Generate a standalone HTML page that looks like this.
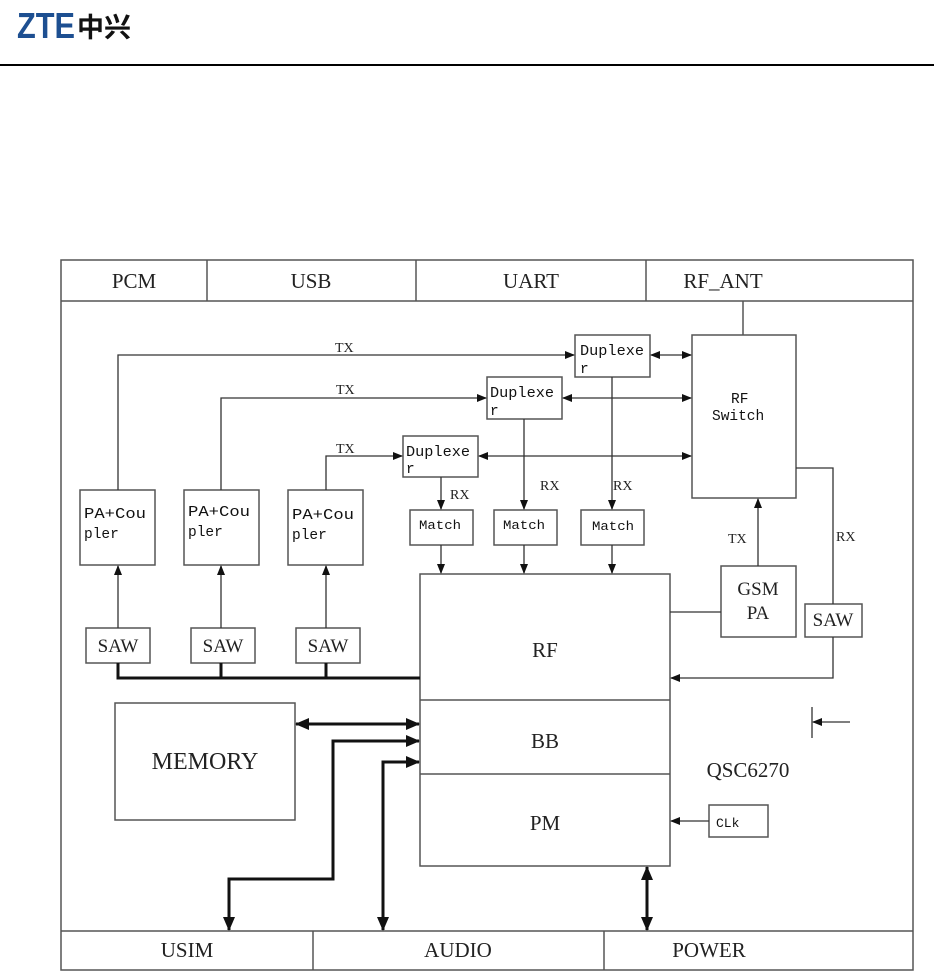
<!DOCTYPE html>
<html><head><meta charset="utf-8"><style>
html,body{margin:0;padding:0;background:#fff;}
svg{display:block;}
.s{font-family:"Liberation Serif",serif;fill:#222;}
.m{font-family:"Liberation Mono","DejaVu Sans Mono",monospace;fill:#111;}
</style></head><body>
<svg width="934" height="976" viewBox="0 0 934 976" xmlns="http://www.w3.org/2000/svg">
<defs>
<marker id="a" markerWidth="10" markerHeight="8" refX="9" refY="4" orient="auto" markerUnits="userSpaceOnUse"><path d="M0,0 L10,4 L0,8 z" fill="#111"/></marker>
<marker id="b" markerWidth="14" markerHeight="12" refX="13" refY="6" orient="auto" markerUnits="userSpaceOnUse"><path d="M0,0 L14,6 L0,12 z" fill="#111"/></marker>
<marker id="as" markerWidth="10" markerHeight="8" refX="1" refY="4" orient="auto" markerUnits="userSpaceOnUse"><path d="M10,0 L0,4 L10,8 z" fill="#111"/></marker>
<marker id="bs" markerWidth="14" markerHeight="12" refX="1" refY="6" orient="auto" markerUnits="userSpaceOnUse"><path d="M14,0 L0,6 L14,12 z" fill="#111"/></marker>
</defs>
<text x="17" y="38" font-family="Liberation Sans,sans-serif" font-weight="bold" font-size="36" fill="#1d4f91" textLength="58" lengthAdjust="spacingAndGlyphs">ZTE</text>
<text x="77" y="37" font-family="Noto Sans CJK SC,sans-serif" font-weight="bold" font-size="27" fill="#111">中兴</text>
<rect x="0" y="64" width="934" height="2" fill="#000"/>
<g fill="none" stroke="#555" stroke-width="1.5">
<rect x="61" y="260" width="852" height="710"/>
<line x1="61" y1="301" x2="913" y2="301"/>
<line x1="207" y1="260" x2="207" y2="301"/><line x1="416" y1="260" x2="416" y2="301"/><line x1="646" y1="260" x2="646" y2="301"/>
<line x1="61" y1="931" x2="913" y2="931"/>
<line x1="313" y1="931" x2="313" y2="970"/><line x1="604" y1="931" x2="604" y2="970"/>
<line x1="743" y1="301" x2="743" y2="335"/>
<rect x="692" y="335" width="104" height="163"/>
<rect x="575" y="335" width="75" height="42"/>
<rect x="487" y="377" width="75" height="42"/>
<rect x="403" y="436" width="75" height="41"/>
<rect x="410" y="510" width="63" height="35"/>
<rect x="494" y="510" width="63" height="35"/>
<rect x="581" y="510" width="63" height="35"/>
<rect x="420" y="574" width="250" height="292"/>
<line x1="420" y1="700" x2="670" y2="700"/><line x1="420" y1="774" x2="670" y2="774"/>
<rect x="80" y="490" width="75" height="75"/><rect x="184" y="490" width="75" height="75"/><rect x="288" y="490" width="75" height="75"/>
<rect x="86" y="628" width="64" height="35"/><rect x="191" y="628" width="64" height="35"/><rect x="296" y="628" width="64" height="35"/>
<rect x="721" y="566" width="75" height="71"/>
<rect x="805" y="604" width="57" height="33"/>
<rect x="115" y="703" width="180" height="117"/>
<rect x="709" y="805" width="59" height="32"/>
</g>
<g fill="none" stroke="#333" stroke-width="1.3">
<polyline points="118,490 118,355 574,355" marker-end="url(#a)"/>
<polyline points="221,490 221,398 486,398" marker-end="url(#a)"/>
<polyline points="326,490 326,456 402,456" marker-end="url(#a)"/>
<line x1="651" y1="355" x2="691" y2="355" marker-start="url(#as)" marker-end="url(#a)"/>
<line x1="563" y1="398" x2="691" y2="398" marker-start="url(#as)" marker-end="url(#a)"/>
<line x1="479" y1="456" x2="691" y2="456" marker-start="url(#as)" marker-end="url(#a)"/>
<line x1="612" y1="377" x2="612" y2="509" marker-end="url(#a)"/>
<line x1="524" y1="419" x2="524" y2="509" marker-end="url(#a)"/>
<line x1="441" y1="477" x2="441" y2="509" marker-end="url(#a)"/>
<line x1="441" y1="545" x2="441" y2="573" marker-end="url(#a)"/>
<line x1="524" y1="545" x2="524" y2="573" marker-end="url(#a)"/>
<line x1="612" y1="545" x2="612" y2="573" marker-end="url(#a)"/>
<line x1="118" y1="628" x2="118" y2="566" marker-end="url(#a)"/>
<line x1="221" y1="628" x2="221" y2="566" marker-end="url(#a)"/>
<line x1="326" y1="628" x2="326" y2="566" marker-end="url(#a)"/>
<line x1="670" y1="612" x2="721" y2="612"/>
<line x1="758" y1="566" x2="758" y2="499" marker-end="url(#a)"/>
<polyline points="796,468 833,468 833,604"/>
<polyline points="833,637 833,678 671,678" marker-end="url(#a)"/>
<line x1="709" y1="821" x2="671" y2="821" marker-end="url(#a)"/>
<line x1="812" y1="707" x2="812" y2="738"/>
<line x1="850" y1="722" x2="813" y2="722" marker-end="url(#a)"/>
</g>
<g fill="none" stroke="#111" stroke-width="3">
<polyline points="118,663 118,678 420,678"/>
<line x1="221" y1="663" x2="221" y2="678"/><line x1="326" y1="663" x2="326" y2="678"/>
<line x1="296" y1="724" x2="419" y2="724" marker-start="url(#bs)" marker-end="url(#b)"/>
<polyline points="419,741 333,741 333,879 229,879 229,930" marker-start="url(#bs)" marker-end="url(#b)"/>
<polyline points="419,762 383,762 383,930" marker-start="url(#bs)" marker-end="url(#b)"/>
<line x1="647" y1="867" x2="647" y2="930" marker-start="url(#bs)" marker-end="url(#b)"/>
</g>
<g class="s" font-size="21" text-anchor="middle">
<text x="134" y="288">PCM</text><text x="311" y="288">USB</text><text x="531" y="288">UART</text><text x="723" y="288">RF_ANT</text>
<text x="187" y="957">USIM</text><text x="458" y="957">AUDIO</text><text x="709" y="957">POWER</text>
<text x="545" y="657">RF</text><text x="545" y="748">BB</text><text x="545" y="830">PM</text>
<text x="205" y="769" font-size="24">MEMORY</text>
<text x="748" y="777">QSC6270</text>
<text x="758" y="595" font-size="19">GSM</text><text x="758" y="619" font-size="19">PA</text>
<text x="833" y="626" font-size="19">SAW</text>
<text x="118" y="652" font-size="19">SAW</text><text x="223" y="652" font-size="19">SAW</text><text x="328" y="652" font-size="19">SAW</text>
</g>
<g class="s" font-size="14" fill="#444">
<text x="335" y="352">TX</text><text x="336" y="394">TX</text><text x="336" y="453">TX</text>
<text x="450" y="499">RX</text><text x="540" y="490">RX</text><text x="613" y="490">RX</text>
<text x="728" y="543">TX</text><text x="836" y="541">RX</text>
</g>
<g class="m" font-size="14.5">
<text x="580" y="355" textLength="64" lengthAdjust="spacingAndGlyphs">Duplexe</text><text x="580" y="373">r</text>
<text x="490" y="397" textLength="64" lengthAdjust="spacingAndGlyphs">Duplexe</text><text x="490" y="415">r</text>
<text x="406" y="456" textLength="64" lengthAdjust="spacingAndGlyphs">Duplexe</text><text x="406" y="473">r</text>
<text x="84" y="518" textLength="62" lengthAdjust="spacingAndGlyphs">PA+Cou</text><text x="84" y="538">pler</text>
<text x="188" y="516" textLength="62" lengthAdjust="spacingAndGlyphs">PA+Cou</text><text x="188" y="536">pler</text>
<text x="292" y="519" textLength="62" lengthAdjust="spacingAndGlyphs">PA+Cou</text><text x="292" y="539">pler</text>
<text x="419" y="529" font-size="13" textLength="42" lengthAdjust="spacingAndGlyphs">Match</text><text x="503" y="529" font-size="13" textLength="42" lengthAdjust="spacingAndGlyphs">Match</text><text x="592" y="530" font-size="13" textLength="42" lengthAdjust="spacingAndGlyphs">Match</text>
<text x="716" y="827" font-size="13">CLk</text>
<text x="731" y="403">RF</text><text x="712" y="420">Switch</text>
</g>
</svg>
</body></html>
